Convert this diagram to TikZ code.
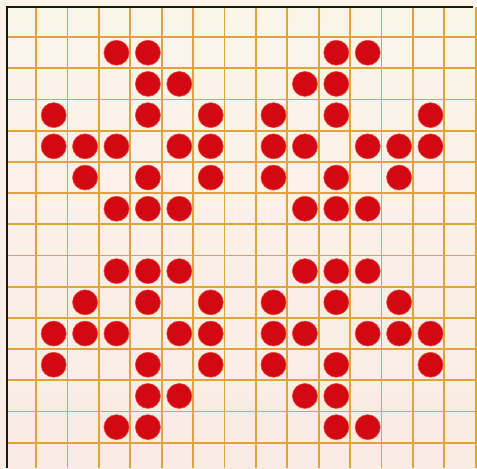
\documentclass[tikz,border=0pt]{standalone}
\definecolor{paper}{RGB}{251,245,232}
\definecolor{paperpink}{RGB}{250,235,229}
\definecolor{gridorange}{RGB}{226,163,58}
\definecolor{dotred}{RGB}{210,8,18}
\definecolor{dotrim}{RGB}{236,72,52}

\begin{document}
\begin{tikzpicture}[x=1cm,y=-0.9936cm,gridline/.style={draw=gridorange,line width=1.7pt},frame/.style={draw=black!90,line width=2.2pt},dot/.style={fill=dotred,draw=dotrim,line width=.5pt}]
\useasboundingbox (-1.15,-1.19) rectangle (14.04,13.81);
\fill[top color=paper,bottom color=paperpink] (-1.15,-1.19) rectangle (14.04,13.81);
% grid
\foreach \k in {0,...,14} \draw[gridline] (\k,-0.96) -- (\k,13.81);
\foreach \k in {0,...,13} \draw[gridline] (-0.92,\k) -- (14.04,\k);
\draw[frame] (-0.92,13.81) -- (-0.92,-0.96) -- (13.9,-0.96);
% one quarter of the pattern, mirrored into the other three
\foreach \c/\r in {3/1,4/1,4/2,5/2,1/3,4/3,6/3,1/4,2/4,3/4,5/4,6/4,2/5,4/5,6/5,3/6,4/6,5/6}{
  \draw[dot] (\c-.44,\r-.5) circle[radius=.4];
  \draw[dot] (13.56-\c,\r-.5) circle[radius=.4];
  \draw[dot] (\c-.44,13.5-\r) circle[radius=.4];
  \draw[dot] (13.56-\c,13.5-\r) circle[radius=.4];
}
\end{tikzpicture}
\end{document}
